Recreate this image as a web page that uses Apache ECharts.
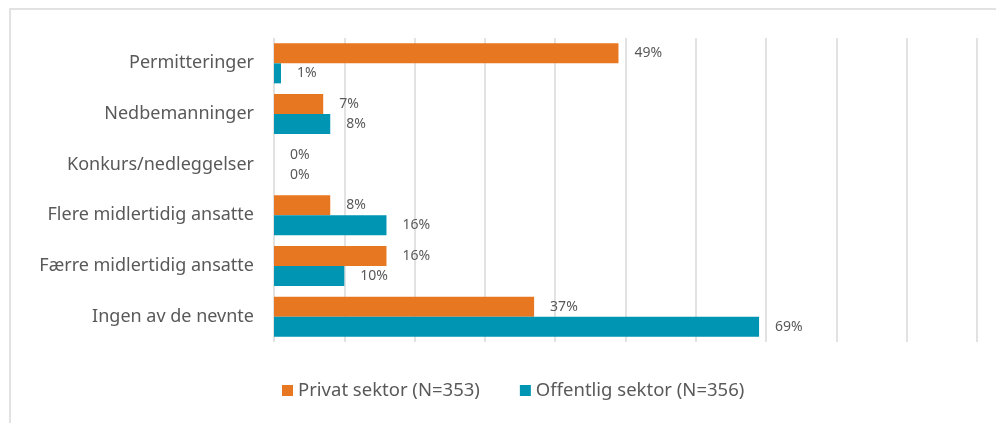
<!DOCTYPE html>
<html>
<head>
<meta charset="utf-8">
<script src="https://cdn.jsdelivr.net/npm/echarts@6/dist/echarts.min.js"></script>
<style>
html,body{margin:0;padding:0;background:#fff;}
#chart{width:996px;height:423px;}
</style>
</head>
<body>
<div id="chart"></div>
<script>
var kategorier = ['Permitteringer', 'Nedbemanninger', 'Konkurs/nedleggelser', 'Flere midlertidig ansatte', 'Færre midlertidig ansatte', 'Ingen av de nevnte'];
var privat = [49, 7, 0, 8, 16, 37];
var offentlig = [1, 8, 0, 16, 10, 69];
var serieNavn = ['Privat sektor (N=353)', 'Offentlig sektor (N=356)'];

var myChart = echarts.init(document.getElementById('chart'));

var labelStyle = {
    show: true,
    position: 'right',
    distance: 16,
    formatter: '{c}%',
    color: '#595959',
    fontSize: 14,
    fontFamily: 'Noto Sans'
};

var option = {
    animation: false,
    textStyle: { fontFamily: 'Noto Sans' },
    graphic: [{
        type: 'rect',
        shape: { x: 10, y: 9, width: 1000, height: 430 },
        style: { fill: 'none', stroke: '#d9d9d9', lineWidth: 1.5 },
        silent: true
    }],
    grid: {
        left: 274,
        right: 19,
        top: 38,
        bottom: 81
    },
    legend: {
        data: serieNavn,
        bottom: 18,
        left: 277,
        itemWidth: 11,
        itemHeight: 11,
        itemGap: 40,
        icon: 'rect',
        textStyle: { color: '#595959', fontSize: 18.5 }
    },
    xAxis: [{
        type: 'value',
        min: 0,
        max: 100,
        interval: 10,
        axisLine: { show: false },
        axisTick: { show: false },
        axisLabel: { show: false },
        splitLine: { show: true, lineStyle: { color: '#d9d9d9', width: 1.5 } }
    }],
    yAxis: [{
        type: 'category',
        inverse: true,
        data: kategorier,
        axisLine: { show: false },
        axisTick: { show: false },
        axisLabel: { color: '#595959', fontSize: 18, margin: 20 }
    }],
    series: [
        {
            name: serieNavn[0],
            type: 'bar',
            barWidth: 20,
            barGap: '0%',
            itemStyle: { color: '#E87722' },
            label: labelStyle,
            data: privat
        },
        {
            name: serieNavn[1],
            type: 'bar',
            barWidth: 20,
            barGap: '0%',
            itemStyle: { color: '#0095B3' },
            label: labelStyle,
            data: offentlig
        }
    ]
};
myChart.setOption(option);
</script>
</body>
</html>
